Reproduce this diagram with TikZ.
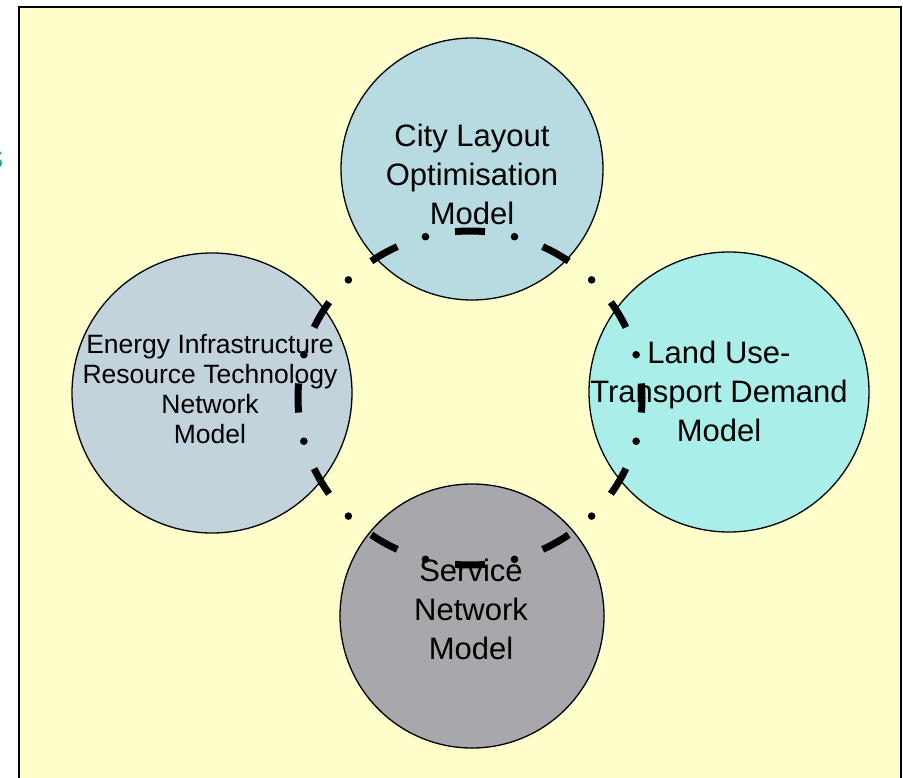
\documentclass[tikz,border=0pt]{standalone}
\usepackage{fontspec}
\setmainfont{Liberation Sans}
\usetikzlibrary{calc}
\definecolor{bgyellow}{HTML}{FFFFCC}
\definecolor{cityblue}{HTML}{B7DBE1}
\definecolor{energygray}{HTML}{C2D3DB}
\definecolor{landaqua}{HTML}{AAEEEA}
\definecolor{servicegray}{HTML}{A8A8AC}
\definecolor{fragteal}{HTML}{2AA0A8}
\begin{document}
\begin{tikzpicture}[x=1pt,y=-1pt,
  bubble/.style={circle, draw=black, line width=1.3pt, inner sep=0pt, minimum size=#1},
  lbl/.style={align=center, inner sep=0pt, font=\fontsize{31}{39}\selectfont},
  smalllbl/.style={align=center, inner sep=0pt, font=\fontsize{26.5}{30}\selectfont},
  ringdash/.style={line width=7pt},
  frame/.style={fill=bgyellow, draw=black, line width=2pt}]
\useasboundingbox (0,0) rectangle (903,778);
\clip (0,0) rectangle (903,778);
\fill[white] (0,0) rectangle (903,778);
\node[text=fragteal, anchor=east, inner sep=0pt, font=\fontsize{34}{40}\selectfont] (frag) at (3.5,160) {s};
\draw[frame] (19,7) rectangle (901,790);
% circles
\node[bubble=262pt, fill=cityblue] (city) at (472,169) {};
\node[bubble=280pt, fill=energygray] (energy) at (212,393) {};
\node[bubble=280pt, fill=landaqua] (land) at (729,392) {};
\node[bubble=264pt, fill=servicegray] (service) at (472,616) {};
% labels (base = baseline of the last line)
\node[lbl, anchor=base] (citytext) at (472,225) {City Layout\\Optimisation\\Model};
\node[smalllbl, anchor=base] (energytext) at (210,443) {Energy Infrastructure\\Resource Technology\\Network\\Model};
\node[lbl, anchor=base] (landtext) at (719,441) {Land Use-\\Transport Demand\\Model};
\node[lbl, anchor=base] (servicetext) at (471,659) {Service\\Network\\Model};
% dash-dot ring linking the four models
\coordinate (ring) at (470,398);
\foreach \a in {0,30,...,330}{
  \draw[ringdash] (ring) ++(\a-5:172 and 167) arc[start angle=\a-5, end angle=\a+5, x radius=172, y radius=167];
  \fill (ring) ++(\a+15:172 and 167) circle[radius=3.8];
}
\end{tikzpicture}
\end{document}
